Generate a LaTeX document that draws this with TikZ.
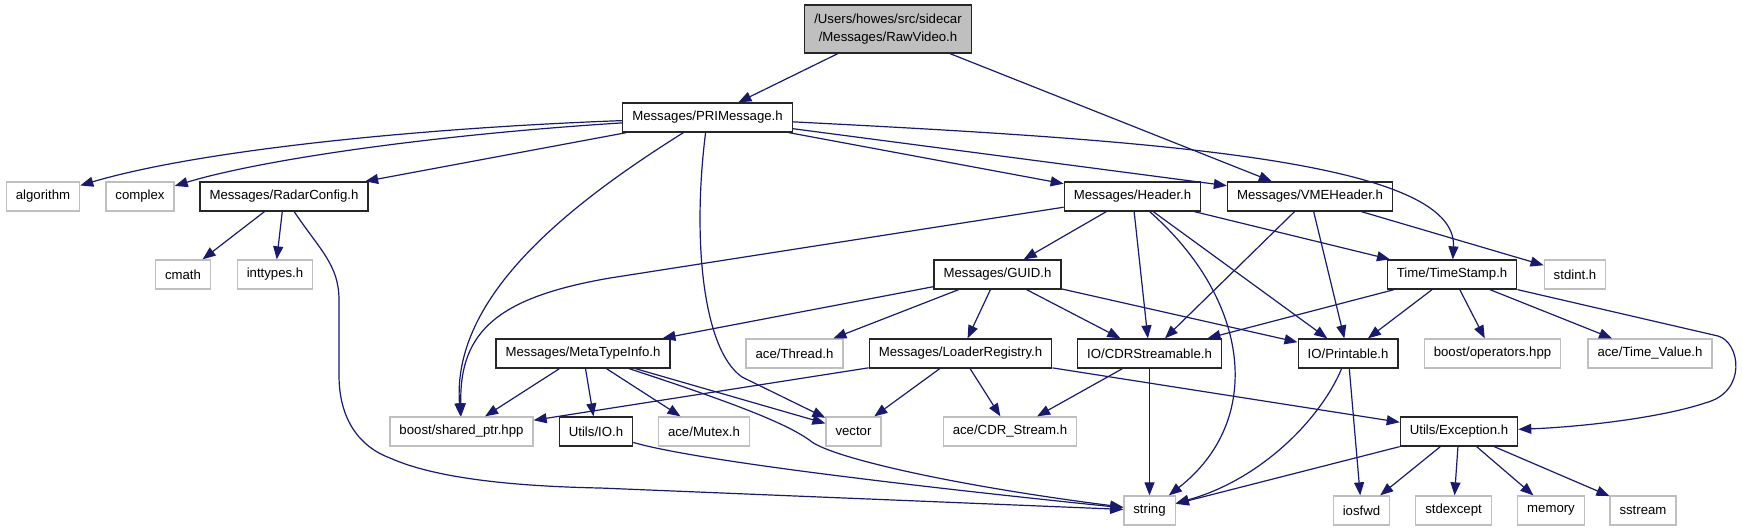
\documentclass[tikz,border=0pt]{standalone}
\usepackage{fontspec}
\setmainfont{Liberation Sans}
\usetikzlibrary{arrows.meta}
\definecolor{edgeblue}{RGB}{25,25,112}
\definecolor{extgray}{RGB}{191,191,191}

\begin{document}
\begin{tikzpicture}[
  x=1pt,y=-1pt,
  font=\fontsize{13.2}{17.3}\selectfont,
  n/.style={draw=black!85,line width=1.3pt,fill=white,minimum height=29pt,inner xsep=9.5pt,inner ysep=0pt},
  ext/.style={n,draw=extgray},
  link/.style={->,draw=edgeblue,line width=1.2pt},
  >={Stealth[length=13pt,width=10pt,inset=0pt]}
]
\useasboundingbox (0,0) rectangle (1743,531);
\node[n,fill=extgray,minimum height=48pt,align=center] (raw) at (888,29) {/Users/howes/src/sidecar\\/Messages/RawVideo.h};
\node[n] (pri) at (707.5,117.5) {Messages/PRIMessage.h};
\node[ext] (alg) at (43,196.5) {algorithm};
\node[ext] (cpx) at (140,196.5) {complex};
\node[n] (radar) at (284,196.5) {Messages/RadarConfig.h};
\node[n] (hdr) at (1132.5,196.5) {Messages/Header.h};
\node[n] (vme) at (1310,196.5) {Messages/VMEHeader.h};
\node[ext] (cmath) at (183,274.5) {cmath};
\node[ext] (intt) at (275,274.5) {inttypes.h};
\node[n] (guid) at (997.5,274.5) {Messages/GUID.h};
\node[n] (ts) at (1452,274.5) {Time/TimeStamp.h};
\node[ext] (stdint) at (1575,274.5) {stdint.h};
\node[n] (meta) at (583,353.5) {Messages/MetaTypeInfo.h};
\node[ext] (thread) at (794.5,353.5) {ace/Thread.h};
\node[n] (loader) at (960.5,353.5) {Messages/LoaderRegistry.h};
\node[n] (cdr) at (1149.5,353.5) {IO/CDRStreamable.h};
\node[n] (prt) at (1348,353.5) {IO/Printable.h};
\node[ext] (ops) at (1492.5,353.5) {boost/operators.hpp};
\node[ext] (tv) at (1650,353.5) {ace/Time\_Value.h};
\node[ext] (sptr) at (461.5,431.5) {boost/shared\_ptr.hpp};
\node[n] (uio) at (596,431.5) {Utils/IO.h};
\node[ext] (mutex) at (704,431.5) {ace/Mutex.h};
\node[ext] (vec) at (853.5,431.5) {vector};
\node[ext] (cdrs) at (1010,431.5) {ace/CDR\_Stream.h};
\node[n] (exc) at (1459,431.5) {Utils/Exception.h};
\node[ext] (str) at (1149.5,510.5) {string};
\node[ext] (iosfwd) at (1361.5,510.5) {iosfwd};
\node[ext] (stdexc) at (1453.5,510.5) {stdexcept};
\node[ext] (mem) at (1551,510.5) {memory};
\node[ext] (sst) at (1643,510.5) {sstream};
\draw[link] (raw) -- (pri);
\draw[link] (raw) -- (vme);
\draw[link] (pri) .. controls (420,128) and (200,150) .. (alg);
\draw[link] (pri) .. controls (430,135) and (260,160) .. (cpx);
\draw[link] (pri) -- (radar);
\draw[link] (pri) -- (hdr);
\draw[link] (pri) -- (vme);
\draw[link] (pri) .. controls (1150,140) and (1458,160) .. (ts);
\draw[link] (pri) .. controls (560,210) and (452,300) .. (sptr);
\draw[link] (pri) .. controls (692,240) and (703,350) .. (742,377) -- (vec);
\draw[link] (radar) -- (cmath);
\draw[link] (radar) -- (intt);
\draw[link] (radar) .. controls (320,250) and (339,265) .. (339,300) -- (339,375) .. controls (339,420) and (360,447) .. (390,458) .. controls (430,476) and (500,486) .. (600,488) -- (str);
\draw[link] (hdr) -- (guid);
\draw[link] (hdr) -- (610,278) .. controls (500,297) and (459,330) .. (sptr);
\draw[link] (hdr) -- (cdr);
\draw[link] (hdr) -- (prt);
\draw[link] (hdr) -- (ts);
\draw[link] (hdr) .. controls (1250,300) and (1265,420) .. (str);
\draw[link] (vme) -- (cdr);
\draw[link] (vme) -- (prt);
\draw[link] (vme) -- (stdint);
\draw[link] (guid) -- (meta);
\draw[link] (guid) -- (thread);
\draw[link] (guid) -- (loader);
\draw[link] (guid) -- (cdr);
\draw[link] (guid) -- (prt);
\draw[link] (ts) -- (cdr);
\draw[link] (ts) -- (prt);
\draw[link] (ts) -- (ops);
\draw[link] (ts) -- (tv);
\draw[link] (ts) -- (1718,336) .. controls (1740,342) and (1748,392) .. (1705,403) .. controls (1660,418) and (1580,427) .. (exc);
\draw[link] (meta) -- (sptr);
\draw[link] (meta) -- (uio);
\draw[link] (meta) -- (mutex);
\draw[link] (meta) -- (vec);
\draw[link] (meta) .. controls (740,405) and (790,425) .. (812,442) .. controls (835,458) and (950,485) .. (str);
\draw[link] (loader) -- (sptr);
\draw[link] (loader) -- (vec);
\draw[link] (loader) -- (cdrs);
\draw[link] (loader) -- (exc);
\draw[link] (cdr) -- (cdrs);
\draw[link] (cdr) -- (str);
\draw[link] (prt) .. controls (1320,420) and (1260,480) .. (str);
\draw[link] (prt) -- (iosfwd);
\draw[link] (uio) .. controls (700,462) and (950,490) .. (str);
\draw[link] (exc) -- (str);
\draw[link] (exc) -- (iosfwd);
\draw[link] (exc) -- (stdexc);
\draw[link] (exc) -- (mem);
\draw[link] (exc) -- (sst);
\end{tikzpicture}
\end{document}
